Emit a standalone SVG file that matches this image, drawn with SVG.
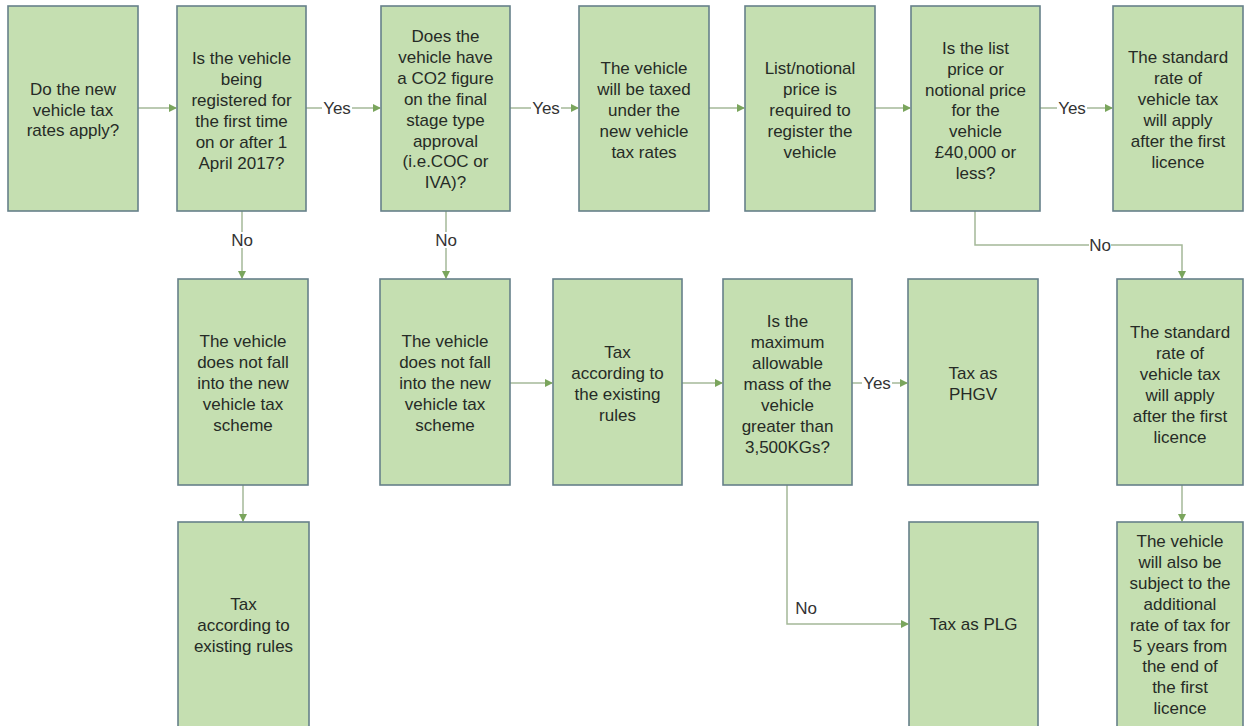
<svg xmlns="http://www.w3.org/2000/svg" width="1244" height="726" viewBox="0 0 1244 726">
<defs>
<style>
.box{fill:#c5dfb1;stroke:#66808a;stroke-width:1.6}
.t{font-family:"Liberation Sans",Arial,sans-serif;font-size:17px;fill:#262b26;text-anchor:middle}
.lbl{font-family:"Liberation Sans",Arial,sans-serif;font-size:17px;fill:#333;text-anchor:middle}
.c{fill:none;stroke:#a4b898;stroke-width:1.5}
.bg{fill:#ffffff}
</style>
<marker id="ah" markerWidth="8" markerHeight="8" refX="7" refY="4" orient="auto" markerUnits="userSpaceOnUse">
<path d="M0,0 L8,4 L0,8 Z" fill="#7aa55c"/>
</marker>
</defs>
<rect width="1244" height="726" fill="#ffffff"/>

<g id="connectors">
<path class="c" d="M138,108 H176" marker-end="url(#ah)"/>
<path class="c" d="M306,108 H380" marker-end="url(#ah)"/>
<path class="c" d="M510,108 H578" marker-end="url(#ah)"/>
<path class="c" d="M709,108 H744" marker-end="url(#ah)"/>
<path class="c" d="M875,108 H910" marker-end="url(#ah)"/>
<path class="c" d="M1040,108 H1112" marker-end="url(#ah)"/>
<path class="c" d="M242,211 V278" marker-end="url(#ah)"/>
<path class="c" d="M446,211 V278" marker-end="url(#ah)"/>
<path class="c" d="M975,211 V245 H1182 V278" marker-end="url(#ah)"/>
<path class="c" d="M243,485 V521" marker-end="url(#ah)"/>
<path class="c" d="M510,383 H552" marker-end="url(#ah)"/>
<path class="c" d="M682,383 H722" marker-end="url(#ah)"/>
<path class="c" d="M852,383 H907" marker-end="url(#ah)"/>
<path class="c" d="M787,485 V624 H908" marker-end="url(#ah)"/>
<path class="c" d="M1182,485 V521" marker-end="url(#ah)"/>
<rect class="bg" x="322" y="100" width="30" height="16"/>
<text class="lbl" x="337" y="114">Yes</text>
<rect class="bg" x="531" y="100" width="30" height="16"/>
<text class="lbl" x="546" y="114">Yes</text>
<rect class="bg" x="1057" y="100" width="30" height="16"/>
<text class="lbl" x="1072" y="114">Yes</text>
<rect class="bg" x="862" y="375" width="30" height="16"/>
<text class="lbl" x="877" y="389">Yes</text>
<rect class="bg" x="231" y="232" width="22" height="16"/>
<text class="lbl" x="242" y="246">No</text>
<rect class="bg" x="435" y="232" width="22" height="16"/>
<text class="lbl" x="446" y="246">No</text>
<rect class="bg" x="1089" y="237" width="22" height="16"/>
<text class="lbl" x="1100" y="251">No</text>
<text class="lbl" x="806" y="614">No</text>
</g>

<g id="n1"><rect class="box" x="8" y="6" width="130" height="205"/>
<text class="t" y="95"><tspan x="73">Do the new</tspan><tspan x="73" dy="20.5">vehicle tax</tspan><tspan x="73" dy="20.5">rates apply?</tspan></text></g>

<g id="n2"><rect class="box" x="177" y="6" width="129" height="205"/>
<text class="t" y="64"><tspan x="241.5">Is the vehicle</tspan><tspan x="241.5" dy="21">being</tspan><tspan x="241.5" dy="21">registered for</tspan><tspan x="241.5" dy="21">the first time</tspan><tspan x="241.5" dy="21">on or after 1</tspan><tspan x="241.5" dy="21">April 2017?</tspan></text></g>

<g id="n3"><rect class="box" x="381" y="6" width="129" height="205"/>
<text class="t" y="42"><tspan x="445.5">Does the</tspan><tspan x="445.5" dy="20.9">vehicle have</tspan><tspan x="445.5" dy="20.9">a CO2 figure</tspan><tspan x="445.5" dy="20.9">on the final</tspan><tspan x="445.5" dy="20.9">stage type</tspan><tspan x="445.5" dy="20.9">approval</tspan><tspan x="445.5" dy="20.9">(i.e.COC or</tspan><tspan x="445.5" dy="20.9">IVA)?</tspan></text></g>

<g id="n4"><rect class="box" x="579" y="6" width="130" height="205"/>
<text class="t" y="74"><tspan x="644">The vehicle</tspan><tspan x="644" dy="21">will be taxed</tspan><tspan x="644" dy="21">under the</tspan><tspan x="644" dy="21">new vehicle</tspan><tspan x="644" dy="21">tax rates</tspan></text></g>

<g id="n5"><rect class="box" x="745" y="6" width="130" height="205"/>
<text class="t" y="74"><tspan x="810">List/notional</tspan><tspan x="810" dy="21">price is</tspan><tspan x="810" dy="21">required to</tspan><tspan x="810" dy="21">register the</tspan><tspan x="810" dy="21">vehicle</tspan></text></g>

<g id="n6"><rect class="box" x="911" y="6" width="129" height="205"/>
<text class="t" y="54"><tspan x="975.5">Is the list</tspan><tspan x="975.5" dy="20.8">price or</tspan><tspan x="975.5" dy="20.8">notional price</tspan><tspan x="975.5" dy="20.8">for the</tspan><tspan x="975.5" dy="20.8">vehicle</tspan><tspan x="975.5" dy="20.8">£40,000 or</tspan><tspan x="975.5" dy="20.8">less?</tspan></text></g>

<g id="n7"><rect class="box" x="1113" y="6" width="130" height="205"/>
<text class="t" y="63"><tspan x="1178">The standard</tspan><tspan x="1178" dy="21">rate of</tspan><tspan x="1178" dy="21">vehicle tax</tspan><tspan x="1178" dy="21">will apply</tspan><tspan x="1178" dy="21">after the first</tspan><tspan x="1178" dy="21">licence</tspan></text></g>

<g id="n8"><rect class="box" x="178" y="279" width="130" height="206"/>
<text class="t" y="347"><tspan x="243">The vehicle</tspan><tspan x="243" dy="21">does not fall</tspan><tspan x="243" dy="21">into the new</tspan><tspan x="243" dy="21">vehicle tax</tspan><tspan x="243" dy="21">scheme</tspan></text></g>

<g id="n9"><rect class="box" x="380" y="279" width="130" height="206"/>
<text class="t" y="347"><tspan x="445">The vehicle</tspan><tspan x="445" dy="21">does not fall</tspan><tspan x="445" dy="21">into the new</tspan><tspan x="445" dy="21">vehicle tax</tspan><tspan x="445" dy="21">scheme</tspan></text></g>

<g id="n10"><rect class="box" x="553" y="279" width="129" height="206"/>
<text class="t" y="358"><tspan x="617.5">Tax</tspan><tspan x="617.5" dy="21">according to</tspan><tspan x="617.5" dy="21">the existing</tspan><tspan x="617.5" dy="21">rules</tspan></text></g>

<g id="n11"><rect class="box" x="723" y="279" width="129" height="206"/>
<text class="t" y="327"><tspan x="787.5">Is the</tspan><tspan x="787.5" dy="21">maximum</tspan><tspan x="787.5" dy="21">allowable</tspan><tspan x="787.5" dy="21">mass of the</tspan><tspan x="787.5" dy="21">vehicle</tspan><tspan x="787.5" dy="21">greater than</tspan><tspan x="787.5" dy="21">3,500KGs?</tspan></text></g>

<g id="n12"><rect class="box" x="908" y="279" width="130" height="206"/>
<text class="t" y="379"><tspan x="973">Tax as</tspan><tspan x="973" dy="21">PHGV</tspan></text></g>

<g id="n13"><rect class="box" x="1117" y="279" width="126" height="206"/>
<text class="t" y="338"><tspan x="1180">The standard</tspan><tspan x="1180" dy="21">rate of</tspan><tspan x="1180" dy="21">vehicle tax</tspan><tspan x="1180" dy="21">will apply</tspan><tspan x="1180" dy="21">after the first</tspan><tspan x="1180" dy="21">licence</tspan></text></g>

<g id="n14"><rect class="box" x="178" y="522" width="131" height="210"/>
<text class="t" y="610"><tspan x="243.5">Tax</tspan><tspan x="243.5" dy="21">according to</tspan><tspan x="243.5" dy="21">existing rules</tspan></text></g>

<g id="n15"><rect class="box" x="909" y="522" width="129" height="210"/>
<text class="t" x="973.5" y="630">Tax as PLG</text></g>

<g id="n16"><rect class="box" x="1117" y="522" width="126" height="210"/>
<text class="t" y="547"><tspan x="1180">The vehicle</tspan><tspan x="1180" dy="20.9">will also be</tspan><tspan x="1180" dy="20.9">subject to the</tspan><tspan x="1180" dy="20.9">additional</tspan><tspan x="1180" dy="20.9">rate of tax for</tspan><tspan x="1180" dy="20.9">5 years from</tspan><tspan x="1180" dy="20.9">the end of</tspan><tspan x="1180" dy="20.9">the first</tspan><tspan x="1180" dy="20.9">licence</tspan></text></g>
</svg>
